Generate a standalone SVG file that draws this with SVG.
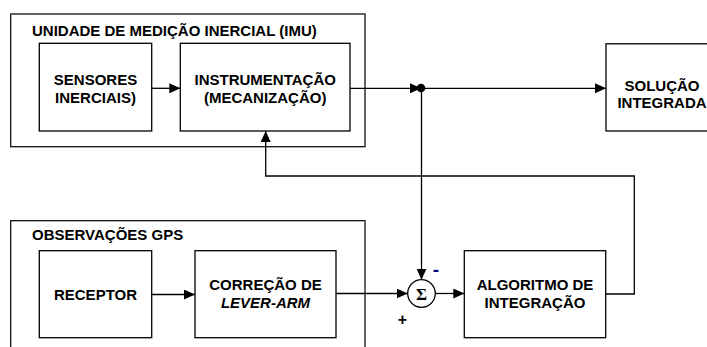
<svg xmlns="http://www.w3.org/2000/svg" width="707" height="347" viewBox="0 0 707 347">
<defs>
<marker id="arr" markerUnits="userSpaceOnUse" markerWidth="12" markerHeight="10" refX="11" refY="5" orient="auto">
<path d="M0,0 L11,5 L0,10 z" fill="#000"/>
</marker>
<style>
.box{fill:#fff;stroke:#000;stroke-width:1.3}
.grp{fill:none;stroke:#111;stroke-width:1.3}
.t{font-family:"Liberation Sans",Arial,sans-serif;font-weight:bold;font-size:15px;fill:#000;text-anchor:middle}
.ti{font-family:"Liberation Sans",Arial,sans-serif;font-weight:bold;font-size:15px;fill:#000}
.c{fill:none;stroke:#000;stroke-width:1.3}
.ca{fill:none;stroke:#000;stroke-width:1.3;marker-end:url(#arr)}
</style>
</defs>
<rect width="707" height="347" fill="#fff"/>
<g id="imu">
<rect class="grp" x="10.7" y="14" width="354.3" height="132.7"/>
<text class="ti" x="32" y="36">UNIDADE DE MEDIÇÃO INERCIAL (IMU)</text>
</g>
<g id="gps">
<rect class="grp" x="10.7" y="220.7" width="354.3" height="140"/>
<text class="ti" x="32" y="240">OBSERVAÇÕES GPS</text>
</g>
<g id="sensores">
<rect class="box" x="39.3" y="43.3" width="112.4" height="87.7"/>
<text class="t" x="95.5" y="85">SENSORES</text>
<text class="t" x="95.5" y="102.5">INERCIAIS)</text>
</g>
<g id="instrumentacao">
<rect class="box" x="180.3" y="43.3" width="169.7" height="87.7"/>
<text class="t" x="265.2" y="85">INSTRUMENTAÇÃO</text>
<text class="t" x="265.2" y="102.5">(MECANIZAÇÃO)</text>
</g>
<g id="solucao">
<rect class="box" x="606" y="43.8" width="112" height="87.2"/>
<text class="t" x="662" y="91">SOLUÇÃO</text>
<text class="t" x="662" y="108">INTEGRADA</text>
</g>
<g id="receptor">
<rect class="box" x="39.3" y="250.7" width="112.4" height="87"/>
<text class="t" x="95.5" y="300">RECEPTOR</text>
</g>
<g id="correcao">
<rect class="box" x="195" y="250.7" width="141" height="87"/>
<text class="t" x="265.5" y="290">CORREÇÃO DE</text>
<text class="t" x="265.5" y="308" font-style="italic">LEVER-ARM</text>
</g>
<g id="algoritmo">
<rect class="box" x="464.3" y="250.7" width="141.4" height="87"/>
<text class="t" x="535" y="290">ALGORITMO DE</text>
<text class="t" x="535" y="308">INTEGRAÇÃO</text>
</g>
<g id="soma">
<circle cx="421.5" cy="293.5" r="13.8" fill="#fff" stroke="#000" stroke-width="1.3"/>
<text x="421.5" y="299.5" font-family="'Liberation Serif','DejaVu Serif',serif" font-weight="bold" font-size="17" text-anchor="middle">Σ</text>
</g>
<g id="connectors">
<line class="ca" x1="151.7" y1="88.3" x2="180.3" y2="88.3"/>
<line class="ca" x1="350" y1="88.3" x2="421" y2="88.3"/>
<line class="ca" x1="421" y1="88.3" x2="606" y2="88.3"/>
<circle cx="421" cy="88" r="4.3" fill="#000"/>
<line class="ca" x1="421.5" y1="88.3" x2="421.5" y2="279.7"/>
<line class="ca" x1="151.7" y1="294.5" x2="195" y2="294.5"/>
<line class="ca" x1="336" y1="293.5" x2="407.7" y2="293.5"/>
<line class="ca" x1="435.3" y1="293.5" x2="464.3" y2="293.5"/>
<polyline class="ca" points="605.7,294 634.3,294 634.3,176 265.7,176 265.7,131"/>
<text x="436" y="276" font-family="'Liberation Sans',Arial,sans-serif" font-weight="bold" font-size="19" fill="#000080" text-anchor="middle">-</text>
<text x="402.5" y="324.5" font-family="'Liberation Sans',Arial,sans-serif" font-weight="bold" font-size="16" fill="#000" text-anchor="middle">+</text>
</g>
</svg>
